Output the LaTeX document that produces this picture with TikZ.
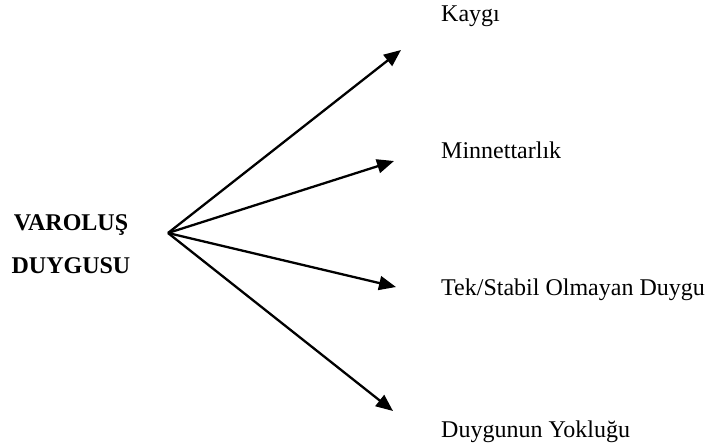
\documentclass[tikz,border=0pt]{standalone}
\usepackage{fontspec}
\setmainfont{Liberation Serif}
\usetikzlibrary{arrows.meta}

\begin{document}
\begin{tikzpicture}[x=1pt,y=-1pt]

\tikzset{feeling/.style = {anchor=base west, inner sep=0pt, font=\fontsize{24}{28}\selectfont}}
\tikzset{root/.style = {align=center, inner sep=0pt, font=\bfseries\fontsize{24}{43}\selectfont}}
\tikzset{edge/.style = {line width=2.3pt, -{Triangle[length=17pt,width=14pt]}}}
\useasboundingbox (0,0) rectangle (708,445);
%nodes
\node[root] (varolus) at (71,244) {VAROLUŞ\\DUYGUSU};
\coordinate (hub) at (168,233);
\node[feeling] (kaygi) at (441,21) {Kaygı};
\node[feeling] (minnet) at (441,158) {Minnettarlık};
\node[feeling] (tek) at (441,295) {Tek/Stabil Olmayan Duygu};
\node[feeling] (yok) at (441,437) {Duygunun Yokluğu};
%arrow tips
\coordinate (t1) at (401,50);
\coordinate (t2) at (394,161);
\coordinate (t3) at (396,287);
\coordinate (t4) at (393,411);
\draw [edge] (hub) -- (t1);
\draw [edge] (hub) -- (t2);
\draw [edge] (hub) -- (t3);
\draw [edge] (hub) -- (t4);

\end{tikzpicture}
\end{document}
